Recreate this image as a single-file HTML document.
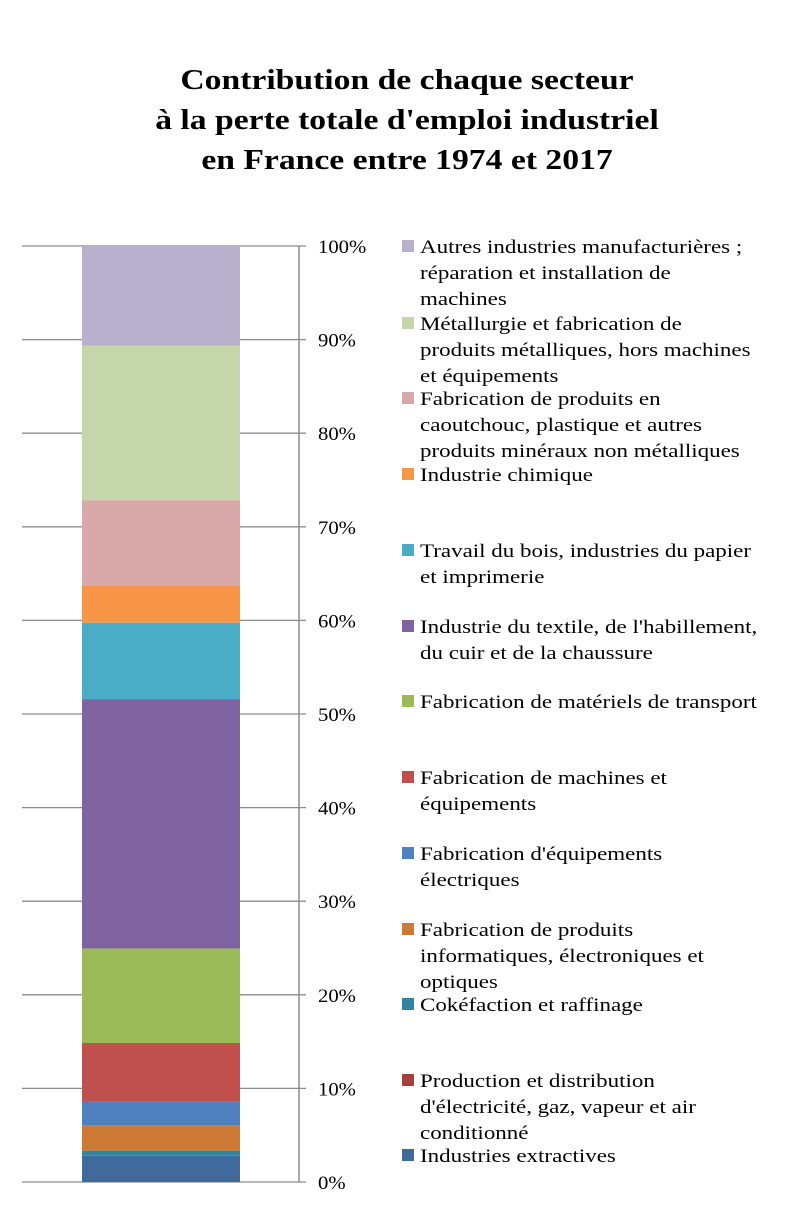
<!DOCTYPE html>
<html><head><meta charset="utf-8"><style>
body{margin:0;background:#fff;}
#wrap{position:relative;width:794px;height:1220px;overflow:hidden;font-family:"Liberation Serif",serif;}
#title{position:absolute;left:10px;top:60px;width:794px;text-align:center;font-weight:bold;font-size:29px;line-height:40px;color:#000;transform:scaleX(1.16);transform-origin:397px 0;}
svg text{font-family:"Liberation Serif",serif;}
</style></head><body>
<div id="wrap">
<div id="title">Contribution de chaque secteur<br>à la perte totale d'emploi industriel<br>en France entre 1974 et 2017</div>
<svg id="svg" width="794" height="1220" style="position:absolute;left:0;top:0"></svg>
</div>
<script>
const categories=["Industries extractives","Production et distribution d'électricité, gaz, vapeur et air conditionné","Cokéfaction et raffinage","Fabrication de produits informatiques, électroniques et optiques","Fabrication d'équipements électriques","Fabrication de machines et équipements","Fabrication de matériels de transport","Industrie du textile, de l'habillement, du cuir et de la chaussure","Travail du bois, industries du papier et imprimerie","Industrie chimique","Fabrication de produits en caoutchouc, plastique et autres produits minéraux non métalliques","Métallurgie et fabrication de produits métalliques, hors machines et équipements","Autres industries manufacturières ; réparation et installation de machines"];
const legendLines=[["Industries extractives"],["Production et distribution","d'électricité, gaz, vapeur et air","conditionné"],["Cokéfaction et raffinage"],["Fabrication de produits","informatiques, électroniques et","optiques"],["Fabrication d'équipements","électriques"],["Fabrication de machines et","équipements"],["Fabrication de matériels de transport"],["Industrie du textile, de l'habillement,","du cuir et de la chaussure"],["Travail du bois, industries du papier","et imprimerie"],["Industrie chimique"],["Fabrication de produits en","caoutchouc, plastique et autres","produits minéraux non métalliques"],["Métallurgie et fabrication de","produits métalliques, hors machines","et équipements"],["Autres industries manufacturières ;","réparation et installation de","machines"]];
const values=[2.8,0,0.55,2.7,2.6,6.2,10.1,26.6,8.2,4.0,9.1,16.5,10.65];
const colors=["#406a9c","#a4403d","#31859c","#cc7a35","#4e81bd","#c0504d","#9bbb59","#8064a2","#4bacc6","#f79646","#d9a8a8","#c5d6ab","#b9b0cd"];
const ticks=[0,10,20,30,40,50,60,70,80,90,100];
const ns="http://www.w3.org/2000/svg",svg=document.getElementById('svg');
const y=v=>1182-v*9.36;
function mk(t,a){const e=document.createElementNS(ns,t);for(const k in a)e.setAttribute(k,a[k]);svg.appendChild(e);return e;}
ticks.forEach(t=>{
 const l=mk('line',{x1:22,x2:306,y1:y(t),y2:y(t),stroke:'#8c8c8c','stroke-width':1.3});
 
 
 const tx=mk('text',{x:318,y:y(t)+7,'font-size':19,fill:'#000',transform:'translate(318,0) scale(1.09,1) translate(-318,0)'});tx.textContent=t+'%';
 
 
});
const ax=mk('line',{x1:299,x2:299,y1:y(100),y2:y(0),stroke:'#8c8c8c','stroke-width':1.5});


let cum=0;
values.forEach((v,i)=>{
 if(v>0){const r=mk('rect',{x:82,width:158,y:y(cum+v),height:v*9.36,fill:colors[i]});
 
 }
 cum+=v;
});
const legendY=[1155,1080,1004,929,853,777,701,626,550,474,398,323,246];
categories.forEach((c,i)=>{
 const g=mk('g',{});
 
 
 const s=document.createElementNS(ns,'rect');
 s.setAttribute('x',402);s.setAttribute('y',legendY[i]-6);s.setAttribute('width',12);s.setAttribute('height',12);s.setAttribute('fill',colors[i]);
 g.appendChild(s);
 legendLines[i].forEach((ln,j)=>{
  const t=document.createElementNS(ns,'text');
  t.setAttribute('x',420);t.setAttribute('y',legendY[i]+7+j*26);t.setAttribute('font-size',19);
  t.setAttribute('transform','translate(420,0) scale(1.21,1) translate(-420,0)');
  t.textContent=ln;g.appendChild(t);
 });
});
</script>
</body></html>
